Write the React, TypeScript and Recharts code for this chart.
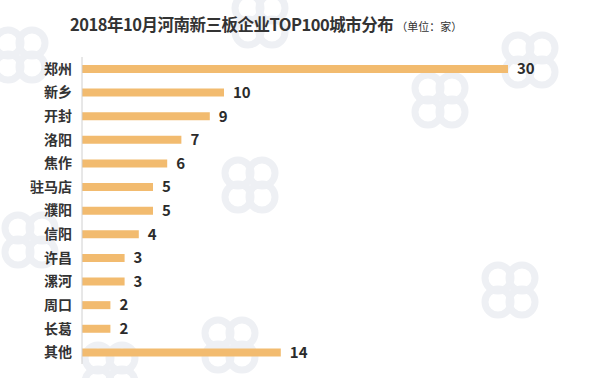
import { BarChart, Bar, XAxis, YAxis, LabelList } from 'recharts';

const cities = ['郑州', '新乡', '开封', '洛阳', '焦作', '驻马店', '濮阳', '信阳', '许昌', '漯河', '周口', '长葛', '其他'];
const counts = [30, 10, 9, 7, 6, 5, 5, 4, 3, 3, 2, 2, 14];

const chartData = cities.map((city, i) => ({ city, count: counts[i] }));

// faint background logo marks (no text, just the cloud shape)
const marks = [
    { x: 20, y: 55 }, { x: 260, y: 20 }, { x: 440, y: 100 },
    { x: 30, y: 240 }, { x: 250, y: 185 }, { x: 530, y: 60 },
    { x: 230, y: 345 }, { x: 510, y: 290 }, { x: 110, y: 370 },
];

const font = '"Noto Sans CJK SC", "Noto Sans", sans-serif';

const Cloud = ({ x, y }: { x: number; y: number }) => (
    <g fill="none" stroke="#eef0f4" strokeWidth={7}>
        <circle cx={x - 12} cy={y - 12} r={13} />
        <circle cx={x + 12} cy={y - 12} r={13} />
        <circle cx={x - 12} cy={y + 12} r={13} />
        <circle cx={x + 12} cy={y + 12} r={13} />
    </g>
);

export default function App() {
    return (
        <div style={{ position: 'relative', width: 605, height: 378, background: '#fff', overflow: 'hidden', fontFamily: font }}>
            <style>{'body{margin:0}'}</style>
            <svg width={605} height={378} style={{ position: 'absolute', left: 0, top: 0 }}>
                {marks.map((m, i) => <Cloud key={i} x={m.x} y={m.y} />)}
            </svg>
            <div style={{ position: 'absolute', left: 70, top: 12, whiteSpace: 'nowrap', color: '#333' }}>
                <span style={{ fontSize: 16.5, fontWeight: 700, letterSpacing: -0.5 }}>2018年10月河南新三板企业TOP100城市分布</span>
                <span style={{ fontSize: 11, marginLeft: 3 }}>（单位：家）</span>
            </div>
            <div style={{ position: 'absolute', left: 0, top: 0 }}>
                <BarChart
                    width={605}
                    height={378}
                    data={chartData}
                    layout="vertical"
                    margin={{ top: 57, right: 97, bottom: 14, left: 0 }}
                >
                    <XAxis type="number" domain={[0, 30]} hide />
                    <YAxis
                        type="category"
                        dataKey="city"
                        width={82}
                        tickLine={false}
                        tickSize={0}
                        tickMargin={10}
                        axisLine={{ stroke: '#d0d0d0' }}
                        tick={{ fill: '#333', fontSize: 14, fontWeight: 700 }}
                        interval={0}
                    />
                    <Bar dataKey="count" fill="#f2bb6f" barSize={8} isAnimationActive={false}>
                        <LabelList dataKey="count" position="right" offset={9} fill="#2b2b2b" fontSize={15} fontWeight={700} />
                    </Bar>
                </BarChart>
            </div>
        </div>
    );
}
